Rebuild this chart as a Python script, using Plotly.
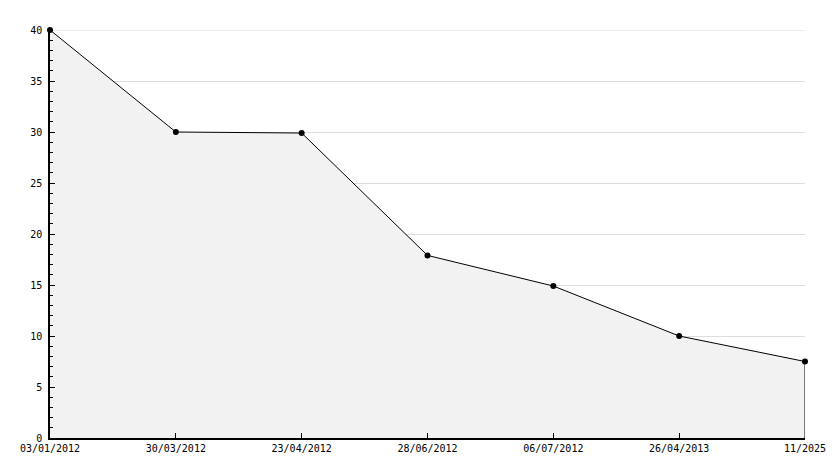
import plotly.graph_objects as go

dates = ["03/01/2012", "30/03/2012", "23/04/2012", "28/06/2012", "06/07/2012", "26/04/2013", "11/2025"]
values = [40, 30, 29.9, 17.9, 14.9, 10, 7.5]
y_ticks = [0, 5, 10, 15, 20, 25, 30, 35, 40]

idx = list(range(len(dates)))

fig = go.Figure()
fig.add_trace(go.Scatter(
    x=idx, y=values, mode="lines+markers", fill="tozeroy",
    fillcolor="#f2f2f2",
    line=dict(color="black", width=1),
    marker=dict(color="black", size=6, symbol="circle"),
    cliponaxis=False, hoverinfo="skip",
))
# right closing edge of the filled area
fig.add_shape(type="line", x0=idx[-1], x1=idx[-1], y0=0, y1=values[-1],
              xref="x", yref="y", line=dict(color="black", width=1))
# top gridline (plotly hides gridlines sitting on the range edge)
fig.add_shape(type="line", x0=0, x1=1, y0=y_ticks[-1], y1=y_ticks[-1],
              xref="paper", yref="y", layer="below",
              line=dict(color="#dddddd", width=1))

font = dict(family="DejaVu Sans Mono", size=10, color="black")
# page body has an 8px default margin, so the figure is sized/margined to compensate
fig.update_layout(
    width=826, height=460,
    margin=dict(l=42, r=29, t=22, b=30, autoexpand=False),
    paper_bgcolor="white", plot_bgcolor="white",
    showlegend=False, font=font,
)
fig.update_xaxes(
    range=[0, len(dates) - 1], tickvals=idx, ticktext=dates, automargin=False,
    showgrid=False, zeroline=False, showline=True, linecolor="black", linewidth=1.5,
    ticks="inside", ticklen=5, tickcolor="black", tickfont=font,
)
fig.update_yaxes(
    range=[0, 40], tickvals=y_ticks, automargin=False, showgrid=True,
    gridcolor="#dddddd", gridwidth=1, ticklabelstandoff=4,
    zeroline=False, showline=True, linecolor="black", linewidth=1.5,
    ticks="inside", ticklen=5, tickcolor="black", tickfont=font,
    minor=dict(dtick=1, ticks="inside", ticklen=3, tickcolor="black", showgrid=False),
)
fig.write_html("out.html")
